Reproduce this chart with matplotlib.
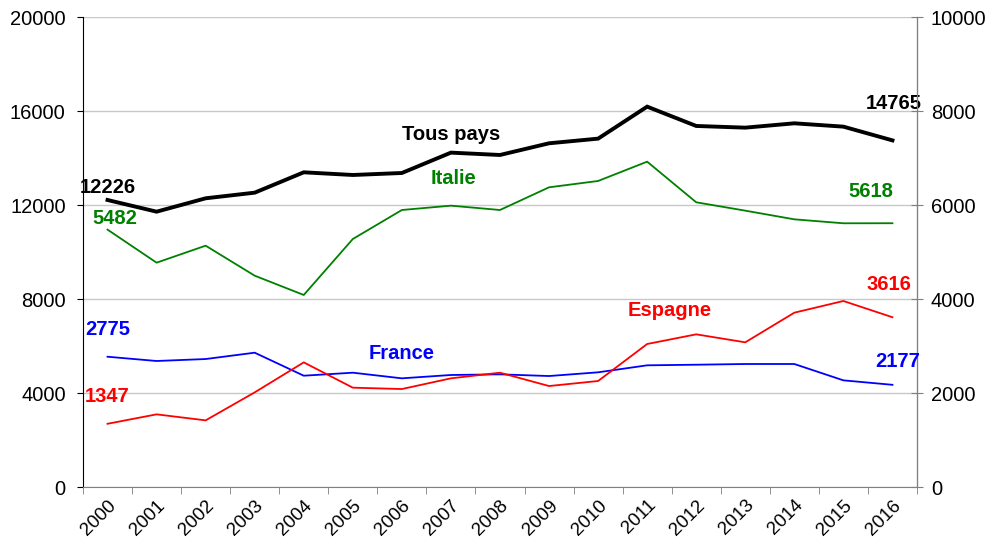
import matplotlib
matplotlib.use("Agg")
import matplotlib.pyplot as plt
import numpy as np

plt.rcParams['font.family'] = ['Liberation Sans', 'DejaVu Sans']

years = [str(y) for y in range(2000, 2017)]

# Left axis
tous_pays = [12226, 11728, 12298, 12538, 13405, 13291, 13376, 14243, 14143,
             14641, 14839, 16202, 15379, 15307, 15492, 15350, 14765]

# Right axis
italie = [5482, 4778, 5140, 4501, 4090, 5282, 5900, 5992, 5900,
          6383, 6518, 6929, 6064, 5886, 5701, 5617, 5618]
france = [2775, 2684, 2726, 2861, 2371, 2435, 2315, 2386, 2400,
          2364, 2443, 2592, 2605, 2620, 2620, 2272, 2177]
espagne = [1347, 1548, 1420, 2016, 2655, 2116, 2087, 2315, 2435,
           2151, 2258, 3046, 3252, 3082, 3713, 3962, 3616]

x = np.arange(len(years))

fig = plt.figure(figsize=(9.94, 5.46), dpi=100)
ax = fig.add_axes([0.0835, 0.108, 0.839, 0.860])
ax2 = ax.twinx()

ax.set_ylim(0, 20000)
ax.set_yticks(range(0, 20001, 4000))
ax2.set_ylim(0, 10000)
ax2.set_yticks(range(0, 10001, 2000))
ax.set_xlim(-0.5, len(years) - 0.5)

ax.yaxis.grid(True, color='#c8c8c8', linewidth=1)
ax.set_axisbelow(True)

ax.plot(x, tous_pays, color='black', linewidth=2.8, solid_joinstyle='miter')
ax2.plot(x, italie, color='#008000', linewidth=1.3)
ax2.plot(x, france, color='#0000ff', linewidth=1.3)
ax2.plot(x, espagne, color='#ff0000', linewidth=1.3)

tick_fs = 14.5
# x ticks: marks between categories, labels at centers
ax.set_xticks(x)
ax.set_xticklabels(years, rotation=45, ha='right', rotation_mode='anchor', fontsize=13.5)
ax.tick_params(axis='x', which='major', length=0, pad=7)
ax.set_xticks(np.arange(-0.5, len(years)), minor=True)
ax.tick_params(axis='x', which='minor', length=5, color='#808080', direction='out')

ax.tick_params(axis='y', labelsize=tick_fs, length=4.5, direction='out', pad=8)
ax2.tick_params(axis='y', labelsize=tick_fs, length=8, direction='inout', color='#808080', pad=6)
ax2.tick_params(axis='x', length=0)

for a in (ax, ax2):
    a.spines['top'].set_visible(False)
ax.spines['left'].set_color('black')
ax.spines['bottom'].set_color('#808080')
ax2.spines['left'].set_visible(False)
ax2.spines['bottom'].set_visible(False)
ax2.spines['right'].set_color('#808080')

fs = 14.5
# Left-axis annotations
ax.text(0, 12750, f"{tous_pays[0]}", color='black', fontsize=fs, fontweight='bold', ha='center', va='center')
ax.text(16.03, 16330, f"{tous_pays[-1]}", color='black', fontsize=fs, fontweight='bold', ha='center', va='center')
ax.text(7, 15020, "Tous pays", color='black', fontsize=fs, fontweight='bold', ha='center', va='center')

# Right-axis annotations
ax2.text(0.15, 5720, f"{italie[0]}", color='#008000', fontsize=fs, fontweight='bold', ha='center', va='center')
ax2.text(15.55, 6300, f"{italie[-1]}", color='#008000', fontsize=fs, fontweight='bold', ha='center', va='center')
ax2.text(7.05, 6580, "Italie", color='#008000', fontsize=fs, fontweight='bold', ha='center', va='center')

ax2.text(0, 3350, f"{france[0]}", color='#0000ff', fontsize=fs, fontweight='bold', ha='center', va='center')
ax2.text(16.1, 2680, f"{france[-1]}", color='#0000ff', fontsize=fs, fontweight='bold', ha='center', va='center')
ax2.text(6.0, 2840, "France", color='#0000ff', fontsize=fs, fontweight='bold', ha='center', va='center')

ax2.text(0, 1930, f"{espagne[0]}", color='#ff0000', fontsize=fs, fontweight='bold', ha='center', va='center')
ax2.text(15.92, 4320, f"{espagne[-1]}", color='#ff0000', fontsize=fs, fontweight='bold', ha='center', va='center')
ax2.text(11.45, 3760, "Espagne", color='#ff0000', fontsize=fs, fontweight='bold', ha='center', va='center')

fig.savefig("out.png", dpi=100)
